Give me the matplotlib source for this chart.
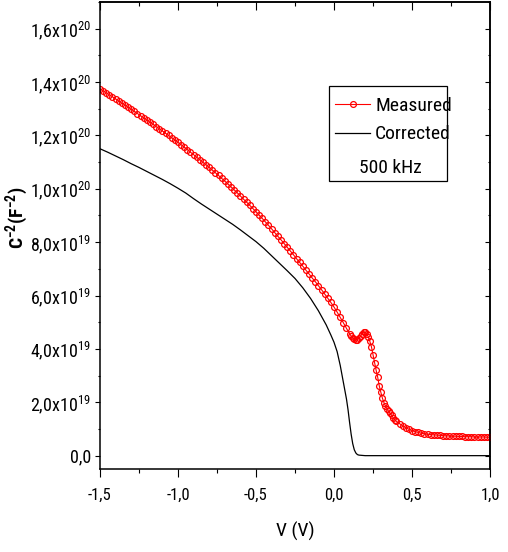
import numpy as np
import matplotlib
matplotlib.use("Agg")
import matplotlib.pyplot as plt
from matplotlib.ticker import MultipleLocator, FuncFormatter
from matplotlib.lines import Line2D
from matplotlib.patches import Rectangle

# =========================
# DATA (C^-2 in units of 1e19 F^-2)
# =========================
v_meas = [-1.50, -1.48, -1.46, -1.44, -1.42, -1.40, -1.38, -1.36, -1.34, -1.32,
          -1.30, -1.28, -1.26, -1.24, -1.22, -1.20, -1.18, -1.16, -1.14, -1.12,
          -1.10, -1.08, -1.06, -1.04, -1.02, -1.00, -0.98, -0.96, -0.94, -0.92,
          -0.90, -0.88, -0.86, -0.84, -0.82, -0.80, -0.78, -0.76, -0.74, -0.72,
          -0.70, -0.68, -0.66, -0.64, -0.62, -0.60, -0.58, -0.56, -0.54, -0.52,
          -0.50, -0.48, -0.46, -0.44, -0.42, -0.40, -0.38, -0.36, -0.34, -0.32,
          -0.30, -0.28, -0.26, -0.24, -0.22, -0.20, -0.18, -0.16, -0.14, -0.12,
          -0.10, -0.08, -0.06, -0.04, -0.02, 0.00, 0.02, 0.04, 0.06, 0.08,
          0.10, 0.11, 0.12, 0.13, 0.14, 0.15, 0.16, 0.17, 0.18, 0.19,
          0.20, 0.21, 0.22, 0.23, 0.24, 0.25, 0.26, 0.27, 0.28, 0.29,
          0.30, 0.31, 0.32, 0.33, 0.34, 0.35, 0.36, 0.37, 0.38, 0.39,
          0.40, 0.42, 0.44, 0.46, 0.48, 0.50, 0.52, 0.54, 0.56, 0.58,
          0.60, 0.62, 0.64, 0.66, 0.68, 0.70, 0.72, 0.74, 0.76, 0.78,
          0.80, 0.82, 0.84, 0.86, 0.88, 0.90, 0.92, 0.94, 0.96, 0.98, 1.00]
c_meas = [13.75, 13.67, 13.60, 13.52, 13.45, 13.37, 13.29, 13.21, 13.14, 13.06,
          12.98, 12.90, 12.82, 12.74, 12.66, 12.58, 12.50, 12.42, 12.33, 12.25,
          12.17, 12.08, 12.00, 11.91, 11.83, 11.74, 11.65, 11.56, 11.47, 11.37,
          11.28, 11.18, 11.09, 10.99, 10.90, 10.80, 10.70, 10.60, 10.50, 10.39,
          10.29, 10.18, 10.07, 9.96, 9.85, 9.73, 9.61, 9.50, 9.38, 9.26,
          9.14, 9.01, 8.89, 8.76, 8.63, 8.50, 8.36, 8.22, 8.09, 7.95,
          7.81, 7.67, 7.53, 7.38, 7.24, 7.10, 6.95, 6.81, 6.66, 6.52,
          6.37, 6.22, 6.06, 5.90, 5.74, 5.57, 5.38, 5.18, 4.98, 4.77,
          4.57, 4.48, 4.41, 4.36, 4.34, 4.35, 4.40, 4.48, 4.57, 4.63,
          4.64, 4.57, 4.45, 4.28, 4.08, 3.78, 3.48, 3.20, 2.94, 2.62,
          2.38, 2.16, 1.99, 1.86, 1.75, 1.66, 1.58, 1.51, 1.41, 1.34,
          1.28, 1.20, 1.12, 1.05, 0.99, 0.94, 0.90, 0.87, 0.84, 0.82,
          0.80, 0.79, 0.78, 0.77, 0.76, 0.75, 0.74, 0.74, 0.73, 0.73,
          0.72, 0.72, 0.71, 0.71, 0.71, 0.70, 0.70, 0.70, 0.70, 0.69, 0.69]

v_corr = [-1.50, -1.45, -1.40, -1.35, -1.30, -1.25, -1.20, -1.15, -1.10, -1.05,
          -1.00, -0.95, -0.90, -0.85, -0.80, -0.75, -0.70, -0.65, -0.60, -0.55,
          -0.50, -0.45, -0.40, -0.35, -0.30, -0.25, -0.20, -0.15, -0.10, -0.05,
          -0.02, 0.00, 0.02, 0.04, 0.06, 0.08, 0.09, 0.10, 0.11, 0.12,
          0.13, 0.14, 0.15, 0.16, 0.18, 0.20, 0.30, 0.50, 0.70, 1.00]
c_corr = [11.50, 11.37, 11.23, 11.09, 10.94, 10.80, 10.65, 10.50, 10.35, 10.19,
          10.02, 9.84, 9.63, 9.43, 9.24, 9.05, 8.86, 8.67, 8.46, 8.24,
          8.02, 7.77, 7.49, 7.21, 6.93, 6.64, 6.29, 5.89, 5.43, 4.90,
          4.52, 4.25, 3.90, 3.38, 2.75, 2.12, 1.72, 1.24, 0.80, 0.45,
          0.22, 0.10, 0.04, 0.02, 0.01, 0.00, 0.00, 0.00, 0.00, 0.00]

SCALE = 1e19

plt.rcParams["font.family"] = ["Roboto Condensed", "DejaVu Sans"]
plt.rcParams["mathtext.default"] = "regular"


def fmt_y(val, pos):
    if abs(val) < 1e10:
        return "0,0"
    e = int(np.floor(np.log10(abs(val)) + 1e-9))
    m = val / 10 ** e
    return f"{m:.1f}".replace(".", ",") + "x10$^{" + str(e) + "}$"


def fmt_x(val, pos):
    return f"{val:.1f}".replace(".", ",")


fig = plt.figure(figsize=(5.08, 5.52), dpi=100)
ax = fig.add_axes([100 / 508, 1 - 469 / 552, 390 / 508, 467 / 552])

ax.plot(v_meas, np.array(c_meas) * SCALE, color="red", lw=0.8,
        marker="o", ms=4.2, mfc="none", mec="red", mew=0.9, label="Measured")
ax.plot(v_corr, np.array(c_corr) * SCALE, color="black", lw=0.9, label="Corrected")

ax.set_xlim(-1.5, 1.0)
ax.set_ylim(-0.5e19, 1.70e20)

ax.xaxis.set_major_locator(MultipleLocator(0.5))
ax.xaxis.set_minor_locator(MultipleLocator(0.25))
ax.yaxis.set_major_locator(MultipleLocator(2e19))
ax.yaxis.set_minor_locator(MultipleLocator(1e19))
ax.xaxis.set_major_formatter(FuncFormatter(fmt_x))
ax.yaxis.set_major_formatter(FuncFormatter(fmt_y))

ax.tick_params(axis="x", which="major", direction="out", length=5.8, width=0.8,
               labelsize=12, pad=8)
ax.tick_params(axis="x", which="minor", direction="out", length=2.9, width=0.8)
ax.tick_params(axis="y", which="major", direction="out", length=3.6, width=0.8,
               labelsize=13, pad=3)
ax.tick_params(axis="y", which="minor", direction="out", length=1.8, width=0.8)

# ticks on top and right, pointing inward
top = ax.secondary_xaxis("top")
top.xaxis.set_major_locator(MultipleLocator(0.5))
top.xaxis.set_minor_locator(MultipleLocator(0.25))
top.tick_params(which="major", direction="in", length=5.8, width=0.8, labeltop=False)
top.tick_params(which="minor", direction="in", length=2.9, width=0.8)
right = ax.secondary_yaxis("right")
right.yaxis.set_major_locator(MultipleLocator(2e19))
right.yaxis.set_minor_locator(MultipleLocator(1e19))
right.tick_params(which="major", direction="in", length=3.6, width=0.8, labelright=False)
right.tick_params(which="minor", direction="in", length=1.8, width=0.8)
for s in ax.spines.values():
    s.set_linewidth(1.1)
top.spines["top"].set_linewidth(1.1)
right.spines["right"].set_linewidth(1.1)

ax.set_xlabel("V (V)", fontsize=14)
ax.xaxis.set_label_coords(0.5, -0.113)
ax.set_ylabel("C$^{-2}$(F$^{-2}$)", fontsize=14, fontweight="bold")
ax.yaxis.set_label_coords(-0.178, 0.537)

# legend box
ax.add_patch(Rectangle((0.587, 0.617), 0.303, 0.203, transform=ax.transAxes,
                       fill=False, edgecolor="black", lw=0.9, zorder=5))
handles = [Line2D([], [], color="red", lw=0.8, marker="o", ms=4.2, mfc="none",
                  mec="red", mew=0.9),
           Line2D([], [], color="black", lw=0.9)]
ax.legend(handles, ["Measured", "Corrected"], loc="upper left",
          bbox_to_anchor=(0.603, 0.797), frameon=False, fontsize=14,
          handlelength=1.8, handletextpad=0.25, labelspacing=0.55,
          borderpad=0, borderaxespad=0)
ax.text(0.744, 0.645, "500 kHz", transform=ax.transAxes, fontsize=14,
        ha="center", va="center")

fig.savefig("out.png", dpi=100)
